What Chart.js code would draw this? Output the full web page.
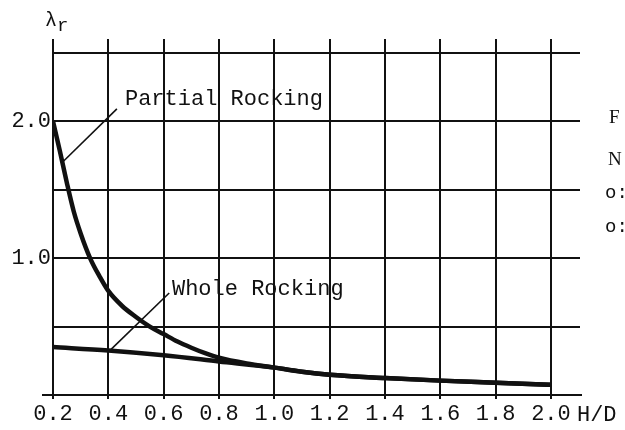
<!DOCTYPE html>
<html>
<head>
<meta charset="utf-8">
<script src="https://cdn.jsdelivr.net/npm/chart.js@4/dist/chart.umd.min.js"></script>
<style>
  html, body { margin: 0; padding: 0; background: #ffffff; }
  #wrap { width: 625px; height: 430px; position: relative; }
</style>
</head>
<body>
<div id="wrap"><canvas id="c" width="625" height="430"></canvas></div>
<script>
// ---- data ----
const xTicks = [0.2, 0.4, 0.6, 0.8, 1.0, 1.2, 1.4, 1.6, 1.8, 2.0];
const yGrid = [0, 0.5, 1.0, 1.5, 2.0, 2.5];
const yLabels = [1.0, 2.0];

const partialX = [0.2, 0.225, 0.25, 0.275, 0.3, 0.334, 0.37, 0.4, 0.45, 0.5, 0.55, 0.6, 0.65, 0.7, 0.75, 0.8, 0.9, 1.0, 1.1, 1.2, 1.4, 1.6, 1.8, 2.0];
const partialY = [2.0, 1.78, 1.55, 1.34, 1.18, 1.0, 0.86, 0.76, 0.65, 0.57, 0.5, 0.445, 0.39, 0.345, 0.305, 0.272, 0.23, 0.20, 0.17, 0.148, 0.124, 0.105, 0.09, 0.075];

const wholeX = [0.2, 0.4, 0.6, 0.8, 1.0, 1.1, 1.2, 1.4, 1.6, 1.8, 2.0];
const wholeY = [0.35, 0.325, 0.29, 0.245, 0.20, 0.17, 0.148, 0.124, 0.105, 0.09, 0.075];

// leader lines for the curve labels (data coordinates)
const partialLeaderX = [0.431, 0.234];
const partialLeaderY = [2.09, 1.70];
const wholeLeaderX = [0.62, 0.408];
const wholeLeaderY = [0.745, 0.33];

const partialLabel = "Partial Rocking";
const wholeLabel = "Whole Rocking";
const xTitle = "H/D";
const sideTexts = ["F", "N", "o:", "o:"];

const pts = (xs, ys) => xs.map((x, i) => ({ x: x, y: ys[i] }));

const MONO = '"Liberation Mono", "DejaVu Sans Mono", monospace';
const INK = '#111111';

const textPlugin = {
  id: 'texts',
  afterDraw(chart) {
    const ctx = chart.ctx;
    const xs = chart.scales.x, ys = chart.scales.y;
    const area = chart.chartArea;
    ctx.save();
    // bottom axis line (extends past the grid on both sides)
    ctx.strokeStyle = INK;
    ctx.lineWidth = 2;
    ctx.beginPath();
    ctx.moveTo(area.left - 11, ys.getPixelForValue(0));
    ctx.lineTo(area.right + 2, ys.getPixelForValue(0));
    ctx.stroke();

    ctx.fillStyle = INK;
    ctx.textBaseline = 'alphabetic';
    ctx.textAlign = 'left';
    // curve labels
    ctx.font = '22px ' + MONO;
    ctx.fillText(partialLabel, xs.getPixelForValue(0.46), ys.getPixelForValue(2.12));
    ctx.fillText(wholeLabel, xs.getPixelForValue(0.63), ys.getPixelForValue(0.73));
    // axis title H/D
    ctx.textBaseline = 'middle';
    ctx.fillText(xTitle, xs.getPixelForValue(2.0) + 26, 415);
    // lambda_r
    ctx.textBaseline = 'alphabetic';
    ctx.font = '20px ' + MONO;
    ctx.fillText('\u03BB', 45, 26);
    ctx.font = '19px ' + MONO;
    ctx.fillText('r', 57, 31);
    // cropped side texts
    ctx.font = '19px "Liberation Serif", serif';
    ctx.textBaseline = 'middle';
    ctx.fillText(sideTexts[0], 609, 118);
    ctx.fillText(sideTexts[1], 608, 160);
    ctx.font = '19px ' + MONO;
    ctx.fillText(sideTexts[2], 605, 193);
    ctx.fillText(sideTexts[3], 605, 227);
    ctx.restore();
  }
};

new Chart(document.getElementById('c'), {
  type: 'scatter',
  data: {
    datasets: [
      { label: partialLabel, data: pts(partialX, partialY), showLine: true, borderColor: INK, borderWidth: 4.5, pointRadius: 0, cubicInterpolationMode: 'monotone', fill: false },
      { label: wholeLabel, data: pts(wholeX, wholeY), showLine: true, borderColor: INK, borderWidth: 4.5, pointRadius: 0, cubicInterpolationMode: 'monotone', fill: false },
      { label: 'pl', data: pts(partialLeaderX, partialLeaderY), showLine: true, borderColor: INK, borderWidth: 1.6, pointRadius: 0, tension: 0 },
      { label: 'wl', data: pts(wholeLeaderX, wholeLeaderY), showLine: true, borderColor: INK, borderWidth: 1.6, pointRadius: 0, tension: 0 }
    ]
  },
  options: {
    responsive: false,
    animation: false,
    devicePixelRatio: 1,
    layout: { padding: { left: 0, top: 39, right: 45, bottom: 0 } },
    plugins: { legend: { display: false }, tooltip: { enabled: false }, title: { display: false } },
    scales: {
      x: {
        type: 'linear',
        min: 0.2,
        max: 2.105,
        afterBuildTicks: (s) => { s.ticks = xTicks.map(v => ({ value: v })); },
        afterFit: (s) => { s.height = 35; },
        border: { display: false },
        grid: { color: INK, lineWidth: 2, drawTicks: true, tickLength: 4, tickColor: INK, tickWidth: 2 },
        ticks: {
          autoSkip: false, maxRotation: 0, color: INK, padding: 2,
          font: { family: MONO, size: 22 },
          callback: (v) => Number(v).toFixed(1)
        }
      },
      y: {
        type: 'linear',
        min: 0,
        max: 2.6,
        afterBuildTicks: (s) => { s.ticks = yGrid.map(v => ({ value: v })); },
        afterFit: (s) => { s.width = 53; },
        border: { display: false },
        grid: { color: INK, lineWidth: 2, drawTicks: false },
        ticks: {
          autoSkip: false, color: INK, padding: 2,
          font: { family: MONO, size: 22 },
          callback: (v) => yLabels.some(t => Math.abs(t - v) < 1e-9) ? Number(v).toFixed(1) : ''
        }
      }
    }
  },
  plugins: [textPlugin]
});
</script>
</body>
</html>
